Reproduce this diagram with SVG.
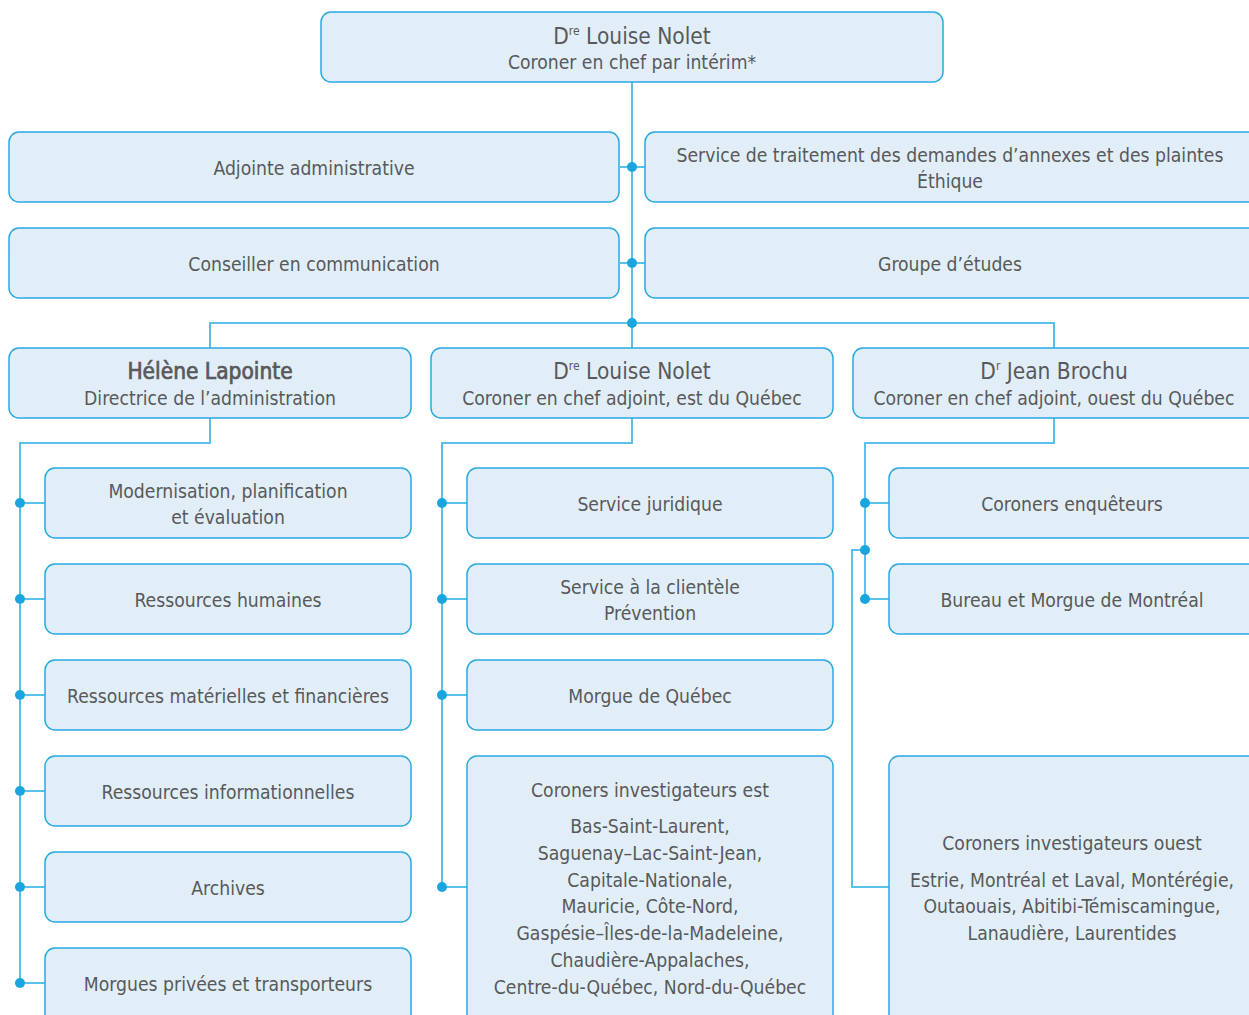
<svg xmlns="http://www.w3.org/2000/svg" width="1249" height="1015" viewBox="0 0 1249 1015">
<style>
.box{fill:#e1eef8;stroke:#29abe2;stroke-width:1.5}
.t{font-family:"Liberation Sans Narrow","DejaVu Sans Condensed","Liberation Sans",sans-serif;font-size:19.2px;fill:#58595b;text-anchor:middle}
.n{font-size:22.5px}
.b{stroke:#58595b;stroke-width:0.7}
.sup{font-size:12px}
.c{fill:none;stroke:#5cc1ea;stroke-width:2}
.d{fill:#1aa5de}
</style>
<rect width="1249" height="1015" fill="#ffffff"/>
<g id="connectors">
<path class="c" d="M632 82V348M620 167H645M620 263H645M210 348V323H1054V348"/>
<path class="c" d="M210 418V443H20V983M20 503H45M20 599H45M20 695H45M20 791H45M20 887H45M20 983H45"/>
<path class="c" d="M632 418V443H442V887M442 503H467M442 599H467M442 695H467M442 887H467"/>
<path class="c" d="M1054 418V443H865V599M865 503H889M865 599H889M865 550H852V887H889"/>
<g class="d">
<circle cx="632" cy="167" r="5"/><circle cx="632" cy="263" r="5"/><circle cx="632" cy="323" r="5"/>
<circle cx="20" cy="503" r="5"/><circle cx="20" cy="599" r="5"/><circle cx="20" cy="695" r="5"/><circle cx="20" cy="791" r="5"/><circle cx="20" cy="887" r="5"/><circle cx="20" cy="983" r="5"/>
<circle cx="442" cy="503" r="5"/><circle cx="442" cy="599" r="5"/><circle cx="442" cy="695" r="5"/><circle cx="442" cy="887" r="5"/>
<circle cx="865" cy="503" r="5"/><circle cx="865" cy="550" r="5"/><circle cx="865" cy="599" r="5"/>
</g>
</g>
<g id="n-top"><rect class="box" x="321" y="12" width="622" height="70" rx="10"/>
<text class="t n" x="632" y="44">D<tspan class="sup" dy="-9">re</tspan><tspan dy="9"> Louise Nolet</tspan></text>
<text class="t" x="632" y="69">Coroner en chef par intérim*</text></g>
<g id="n-adjointe"><rect class="box" x="9" y="132" width="610" height="70" rx="10"/>
<text class="t" x="314" y="175">Adjointe administrative</text></g>
<g id="n-service-plaintes"><rect class="box" x="645" y="132" width="620" height="70" rx="10"/>
<text class="t" x="950" y="162">Service de traitement des demandes d’annexes et des plaintes</text>
<text class="t" x="950" y="188">Éthique</text></g>
<g id="n-conseiller"><rect class="box" x="9" y="228" width="610" height="70" rx="10"/>
<text class="t" x="314" y="271">Conseiller en communication</text></g>
<g id="n-groupe"><rect class="box" x="645" y="228" width="620" height="70" rx="10"/>
<text class="t" x="950" y="271">Groupe d’études</text></g>
<g id="n-lapointe"><rect class="box" x="9" y="348" width="402" height="70" rx="10"/>
<text class="t n b" x="210" y="379">Hélène Lapointe</text>
<text class="t" x="210" y="405">Directrice de l’administration</text></g>
<g id="n-nolet-est"><rect class="box" x="431" y="348" width="402" height="70" rx="10"/>
<text class="t n" x="632" y="379">D<tspan class="sup" dy="-9">re</tspan><tspan dy="9"> Louise Nolet</tspan></text>
<text class="t" x="632" y="405">Coroner en chef adjoint, est du Québec</text></g>
<g id="n-brochu"><rect class="box" x="853" y="348" width="412" height="70" rx="10"/>
<text class="t n" x="1054" y="379">D<tspan class="sup" dy="-9">r</tspan><tspan dy="9"> Jean Brochu</tspan></text>
<text class="t" x="1054" y="405">Coroner en chef adjoint, ouest du Québec</text></g>
<g id="n-modernisation"><rect class="box" x="45" y="468" width="366" height="70" rx="10"/>
<text class="t" x="228" y="498">Modernisation, planification</text>
<text class="t" x="228" y="524">et évaluation</text></g>
<g id="n-rh"><rect class="box" x="45" y="564" width="366" height="70" rx="10"/>
<text class="t" x="228" y="607">Ressources humaines</text></g>
<g id="n-rmf"><rect class="box" x="45" y="660" width="366" height="70" rx="10"/>
<text class="t" x="228" y="703">Ressources matérielles et financières</text></g>
<g id="n-ri"><rect class="box" x="45" y="756" width="366" height="70" rx="10"/>
<text class="t" x="228" y="799">Ressources informationnelles</text></g>
<g id="n-archives"><rect class="box" x="45" y="852" width="366" height="70" rx="10"/>
<text class="t" x="228" y="895">Archives</text></g>
<g id="n-morgues"><rect class="box" x="45" y="948" width="366" height="80" rx="10"/>
<text class="t" x="228" y="991">Morgues privées et transporteurs</text></g>
<g id="n-juridique"><rect class="box" x="467" y="468" width="366" height="70" rx="10"/>
<text class="t" x="650" y="511">Service juridique</text></g>
<g id="n-clientele"><rect class="box" x="467" y="564" width="366" height="70" rx="10"/>
<text class="t" x="650" y="594">Service à la clientèle</text>
<text class="t" x="650" y="620">Prévention</text></g>
<g id="n-morgue-quebec"><rect class="box" x="467" y="660" width="366" height="70" rx="10"/>
<text class="t" x="650" y="703">Morgue de Québec</text></g>
<g id="n-invest-est"><rect class="box" x="467" y="756" width="366" height="270" rx="10"/>
<text class="t" x="650" y="797">Coroners investigateurs est</text>
<text class="t" x="650" y="833">Bas-Saint-Laurent,</text>
<text class="t" x="650" y="860">Saguenay–Lac-Saint-Jean,</text>
<text class="t" x="650" y="887">Capitale-Nationale,</text>
<text class="t" x="650" y="913">Mauricie, Côte-Nord,</text>
<text class="t" x="650" y="940">Gaspésie–Îles-de-la-Madeleine,</text>
<text class="t" x="650" y="967">Chaudière-Appalaches,</text>
<text class="t" x="650" y="994">Centre-du-Québec, Nord-du-Québec</text></g>
<g id="n-enqueteurs"><rect class="box" x="889" y="468" width="376" height="70" rx="10"/>
<text class="t" x="1072" y="511">Coroners enquêteurs</text></g>
<g id="n-montreal"><rect class="box" x="889" y="564" width="376" height="70" rx="10"/>
<text class="t" x="1072" y="607">Bureau et Morgue de Montréal</text></g>
<g id="n-invest-ouest"><rect class="box" x="889" y="756" width="376" height="270" rx="10"/>
<text class="t" x="1072" y="850">Coroners investigateurs ouest</text>
<text class="t" x="1072" y="887">Estrie, Montréal et Laval, Montérégie,</text>
<text class="t" x="1072" y="913">Outaouais, Abitibi-Témiscamingue,</text>
<text class="t" x="1072" y="940">Lanaudière, Laurentides</text></g>
</svg>
